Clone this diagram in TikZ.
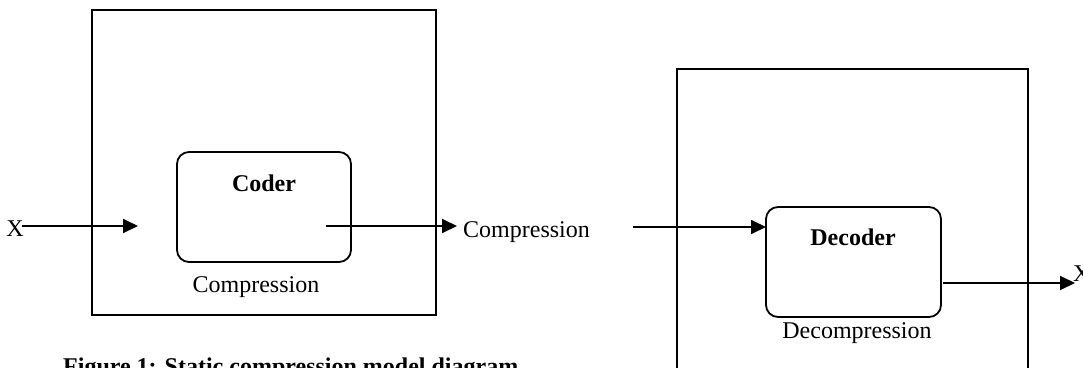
\documentclass[tikz,border=0pt]{standalone}
\usepackage{fontspec}
\setmainfont{Liberation Serif}
\usetikzlibrary{arrows.meta}
\tikzset{
  outerbox/.style={draw, line width=1.8pt, inner sep=0pt},
  procbox/.style={draw, line width=1.8pt, rounded corners=12pt, inner sep=0pt, minimum width=174pt, minimum height=110pt},
  lbl/.style={inner sep=0pt, anchor=base, font=\fontsize{24}{28}\selectfont},
  blbl/.style={lbl, font=\fontsize{24}{28}\selectfont\bfseries},
  arr/.style={line width=1.8pt, -{Triangle[length=15pt,width=14pt]}}
}
\begin{document}
\begin{tikzpicture}[x=1pt,y=-1pt]
\useasboundingbox (0,0) rectangle (1083,367);
\clip (0,0) rectangle (1083,367);
% encoder side
\node[outerbox, minimum width=344pt, minimum height=305pt] (enc) at (264,162.5) {};
\node[procbox] (coder) at (264,207) {};
\node[blbl] (codert) at (264,191) {Coder};
\node[lbl] (compt) at (256,292) {Compression};
\node[lbl] (xin) at (15,236) {X};
\coordinate (xstart) at (22,226);
\coordinate (xend) at (138,226);
\draw[arr] (xstart) -- (xend);
\coordinate (cstart) at (326,226);
\coordinate (cend) at (457,226);
\node[lbl, anchor=base west] (compout) at (463,237) {Compression};
\draw[arr] (cstart) -- (cend);
% caption
\node[blbl, anchor=base west] (cap) at (63,374) {Figure 1: Static compression model diagram};
% decoder side
\node[outerbox, minimum width=351pt, minimum height=351pt] (decbox) at (852.5,244.5) {};
\node[procbox, minimum width=175pt] (dec) at (853.5,262) {};
\node[blbl] (dect) at (853,245) {Decoder};
\node[lbl] (decompt) at (857,338) {Decompression};
\coordinate (dstart) at (633,227);
\coordinate (dend) at (766,227);
\draw[arr] (dstart) -- (dend);
\coordinate (ostart) at (943,283);
\coordinate (oend) at (1075,283);
\draw[arr] (ostart) -- (oend);
\node[lbl, anchor=base west] (xout) at (1073,281) {X};
\end{tikzpicture}
\end{document}
